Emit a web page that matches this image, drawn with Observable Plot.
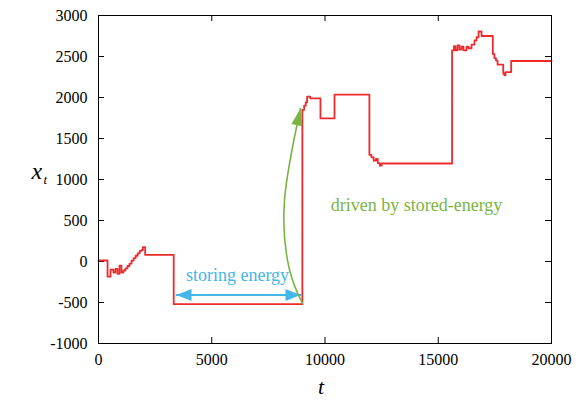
<!DOCTYPE html>
<html>
<head>
<meta charset="utf-8">
<script src="https://cdn.jsdelivr.net/npm/d3@7"></script>
<script src="https://cdn.jsdelivr.net/npm/@observablehq/plot@0.6"></script>
<style>
  body { margin: 0; background: #fff; }
</style>
</head>
<body>
<div id="chart"></div>
<script>
// Trajectory x_t as a step function: value at each time holds until the next time
const stepT = [0, 400, 530, 660, 750, 840, 930, 1015, 1100, 1190, 1280, 1370, 1460, 1550, 1640, 1730, 1820, 1910, 1960, 2060,
  3320, 9000, 9080, 9150, 9210, 9350, 9800, 10420, 11960, 12050, 12150, 12250, 12330, 12420, 12500,
  15610, 15695, 15760, 15850, 15940, 16030, 16115, 16250, 16340, 16470, 16600, 16690, 16780, 16910,
  17410, 17480, 17550, 17620, 17870, 17920, 17970, 18220, 20000];
const stepX = [12, -185, -100, -135, -90, -150, -50, -135, -110, -85, -55, -25, 10, 40, 70, 100, 130, 140, 175, 80,
  -520, 1850, 1900, 1940, 2010, 1990, 1745, 2035, 1300, 1270, 1230, 1250, 1200, 1170, 1195,
  2575, 2625, 2575, 2635, 2585, 2620, 2575, 2620, 2600, 2645, 2695, 2735, 2805, 2750,
  2530, 2480, 2450, 2400, 2290, 2270, 2310, 2445, 2445];

const xTicks = [0, 5000, 10000, 15000, 20000];
const yTicks = [-1000, -500, 0, 500, 1000, 1500, 2000, 2500, 3000];

// Annotations
const storingArrowT = [3444, 8918];
const storingArrowX = [-410, -410];
const storingLabel = {text: "storing energy", t: 6137, x: -170};
const drivenCurveT = [9007, 8420, 8212, 8918];
const drivenCurveX = [-512, -85, 744, 1866];
const drivenLabel = {text: "driven by stored-energy", t: 14040, x: 683};

const series = stepT.map((t, i) => ({t, x: stepX[i]}));
const storingArrow = storingArrowT.map((t, i) => ({t, x: storingArrowX[i]}));
const drivenCurve = drivenCurveT.map((t, i) => ({t, x: drivenCurveX[i]}));

const W = 580, H = 401;
const mL = 98, mR = 29, mT = 15, mB = 58;
const innerW = W - mL - mR, innerH = H - mT - mB;
const tickLen = 6;
const serif = "Liberation Serif, DejaVu Serif, Times New Roman, serif";

// Filled triangular arrowhead marker
function headMarker(len, wid) {
  return (color) => {
    const m = d3.create("svg:marker")
      .attr("viewBox", `${-len} ${-wid / 2} ${len} ${wid}`)
      .attr("markerWidth", len)
      .attr("markerHeight", wid)
      .attr("markerUnits", "userSpaceOnUse")
      .attr("refX", 0)
      .attr("refY", 0)
      .attr("orient", "auto-start-reverse")
      .attr("overflow", "visible");
    m.append("path")
      .attr("d", `M0,0L${-len},${-wid / 2}L${-len},${wid / 2}Z`)
      .attr("fill", color)
      .attr("stroke", "none");
    return m.node();
  };
}

const blue = "#45b6ea";
const green = "#7ab544";
const red = "#ee2a2d";

const chart = Plot.plot({
  width: W,
  height: H,
  marginLeft: mL,
  marginRight: mR,
  marginTop: mT,
  marginBottom: mB,
  style: {fontFamily: serif, fontSize: "16px", background: "#fff", color: "#000"},
  x: {domain: [0, 20000]},
  y: {domain: [-1000, 3000]},
  marks: [
    // inward tick marks on all four sides
    Plot.ruleX(xTicks, {x: d => d, insetTop: innerH - tickLen, stroke: "#000"}),
    Plot.ruleX(xTicks, {x: d => d, insetBottom: innerH - tickLen, stroke: "#000"}),
    Plot.ruleY(yTicks, {y: d => d, insetRight: innerW - tickLen, stroke: "#000"}),
    Plot.ruleY(yTicks, {y: d => d, insetLeft: innerW - tickLen, stroke: "#000"}),
    Plot.axisX({ticks: xTicks, tickSize: 0, tickPadding: 10, tickFormat: d => String(d), label: null, fontSize: 16, fontFamily: serif}),
    Plot.axisY({ticks: yTicks, tickSize: 0, tickPadding: 11, tickFormat: d => String(d), label: null, fontSize: 16, fontFamily: serif}),
    Plot.line(series, {x: "t", y: "x", curve: "step-after", stroke: red, strokeWidth: 1.8}),
    Plot.line(storingArrow, {x: "t", y: "x", stroke: blue, strokeWidth: 2,
      markerStart: headMarker(15, 12), markerEnd: headMarker(15, 12)}),
    Plot.text([storingLabel], {x: "t", y: "x", text: "text", fill: blue, fontSize: 18, fontFamily: serif, textAnchor: "middle"}),
    Plot.line(drivenCurve, {x: "t", y: "x", curve: "natural", stroke: green, strokeWidth: 1.6,
      markerEnd: headMarker(17, 11)}),
    Plot.text([drivenLabel], {x: "t", y: "x", text: "text", fill: green, fontSize: 18, fontFamily: serif, textAnchor: "middle"}),
    // axis titles
    Plot.text(["t"], {frameAnchor: "bottom", dy: 50, dx: -4, text: d => d, fontSize: 22, fontStyle: "italic", fontFamily: serif}),
    Plot.text(["x"], {frameAnchor: "left", dx: -67, dy: -8, text: d => d, fontSize: 24, fontStyle: "italic", fontFamily: serif}),
    Plot.text(["t"], {frameAnchor: "left", dx: -55, dy: 0, text: d => d, fontSize: 13, fontStyle: "italic", fontFamily: serif}),
    Plot.frame({stroke: "#000", strokeWidth: 1})
  ]
});

document.getElementById("chart").appendChild(chart);
</script>
</body>
</html>
